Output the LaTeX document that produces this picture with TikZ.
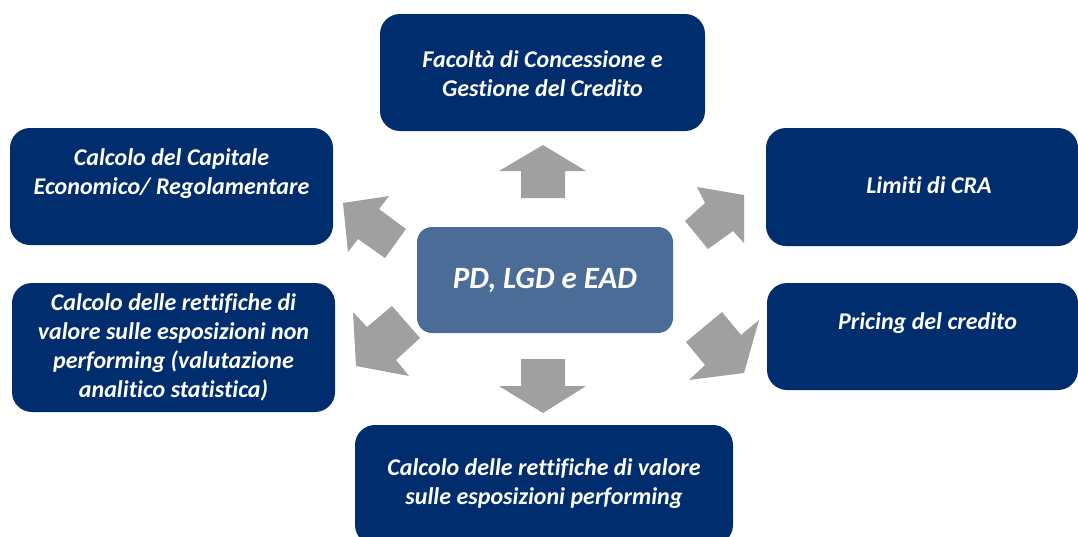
\documentclass[tikz,border=0pt]{standalone}
\usepackage{fontspec}
\setmainfont{Carlito}[Ligatures=NoCommon]
\usetikzlibrary{positioning}
\definecolor{navyblue}{RGB}{0,45,110}
\definecolor{coreblue}{RGB}{74,108,150}
\definecolor{arrowgray}{RGB}{160,160,160}
\tikzset{
  usebox/.style={fill=navyblue, rounded corners=20pt, inner sep=0pt},
  boxtext/.style={text=white, align=center, inner sep=0pt,
    font=\fontsize{24}{29}\selectfont\bfseries\itshape},
  corebox/.style={fill=coreblue, rounded corners=15pt, text=white, inner sep=0pt,
    minimum width=256pt, minimum height=106pt,
    font=\fontsize{31}{36}\selectfont\bfseries\itshape},
  blockarrow/.style={fill=arrowgray}
}

\begin{document}
\begin{tikzpicture}[x=1pt,y=-1pt]
					\useasboundingbox (0,0) rectangle (1078,536);
					\node[corebox, yshift=-2pt] (pd) at (545,278) {PD, LGD e EAD};

					% boxes round the centre
					\node[usebox, minimum width=325pt, minimum height=117pt] (facolta) at (542.5,72.5) {};
					\node[usebox, minimum width=323pt, minimum height=117pt] (capitale) at (171.5,186.5) {};
					\node[usebox, minimum width=323pt, minimum height=129pt] (nonperf) at (173.5,347.5) {};
					\node[usebox, minimum width=312pt, minimum height=118pt] (cra) at (922,187) {};
					\node[usebox, minimum width=311pt, minimum height=107pt] (pricing) at (922.5,336.5) {};
					\node[usebox, minimum width=378pt, minimum height=120pt] (perf) at (544,485) {};

					% texts
					\node[boxtext, yshift=-1.5pt] (facoltatxt) at (facolta) {Facoltà di Concessione e\\Gestione del Credito};
					\node[boxtext, yshift=13pt] (capitaletxt) at (capitale) {Calcolo del Capitale\\Economico/ Regolamentare};
					\node[boxtext] (nonperftxt) at (nonperf) {Calcolo delle rettifiche di\\valore sulle esposizioni non\\performing (valutazione\\analitico statistica)};
					\node[boxtext, xshift=7pt, yshift=2pt] (cratxt) at (cra) {Limiti di CRA};
					\node[boxtext, xshift=5pt, yshift=13pt] (pricingtxt) at (pricing) {Pricing del credito};
					\node[boxtext, yshift=1pt] (perftxt) at (perf) {Calcolo delle rettifiche di valore\\sulle esposizioni performing};

					% grey block arrows
					\fill[blockarrow] (543,145) -- (586,171) -- (565,171) -- (565,198) -- (521,198) -- (521,171) -- (499,171) -- cycle;
					\fill[blockarrow] (521,359) -- (565,359) -- (565,386) -- (586,386) -- (543,413) -- (499,386) -- (521,386) -- cycle;
					\fill[blockarrow] (697,187) -- (744,195) -- (744,243) -- (733,231) -- (708,249) -- (685,221) -- (705,203) -- cycle;
					\fill[blockarrow] (722,312) -- (741,335) -- (759,320) -- (744,373) -- (689,380) -- (705,365) -- (686,342) -- cycle;
					\fill[blockarrow] (389,196) -- (379,209) -- (406,229) -- (385,258) -- (358,239) -- (348,252) -- (343,203) -- cycle;
					\fill[blockarrow] (392,306) -- (420,338) -- (396,360) -- (409,376) -- (356,366) -- (353,312) -- (367,327) -- cycle;
				\end{tikzpicture}
\end{document}
